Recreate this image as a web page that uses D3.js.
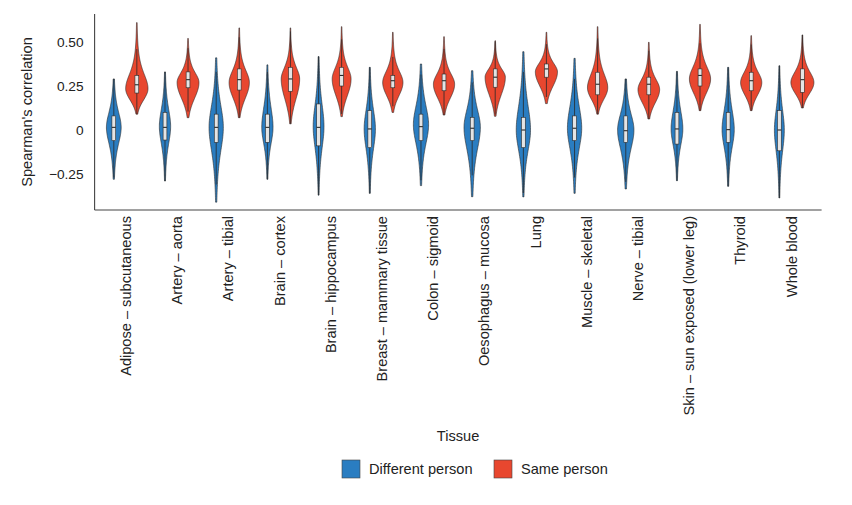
<!DOCTYPE html>
<html><head><meta charset="utf-8">
<script src="https://cdn.jsdelivr.net/npm/d3@7"></script>
<style>body{margin:0;background:#fff}svg{display:block}text{font-family:"Liberation Sans",Arial,Helvetica,sans-serif}</style>
</head><body><svg id="c" width="852" height="505"></svg>
<script>
const tissues = ["Adipose – subcutaneous","Artery – aorta","Artery – tibial","Brain – cortex","Brain – hippocampus","Breast – mammary tissue","Colon – sigmoid","Oesophagus – mucosa","Lung","Muscle – skeletal","Nerve – tibial","Skin – sun exposed (lower leg)","Thyroid","Whole blood"];
const groups = ["Different person","Same person"];
// summaries
const diffMin = [-0.28,-0.29,-0.41,-0.28,-0.37,-0.36,-0.316,-0.379,-0.38,-0.36,-0.335,-0.288,-0.32,-0.386];
const diffQ1  = [-0.06,-0.057,-0.07,-0.07,-0.09,-0.10,-0.06,-0.06,-0.10,-0.06,-0.07,-0.08,-0.07,-0.118];
const diffMed = [0.015,0.015,0.015,0.015,0.015,0.006,0.019,0.01,0.0,0.01,-0.004,0.006,0.002,0.0];
const diffQ3  = [0.08,0.10,0.09,0.09,0.148,0.11,0.09,0.072,0.072,0.08,0.08,0.10,0.10,0.11];
const diffMax = [0.29,0.33,0.41,0.37,0.417,0.356,0.375,0.337,0.445,0.407,0.29,0.333,0.356,0.365];
const diffMode = [0.015,0.02,0.015,0.015,0.02,0.006,0.03,0.015,0.0,0.01,0.0,0.006,0.002,0.0];
const diffPeak = [0.64,0.49,0.62,0.49,0.47,0.49,0.66,0.71,0.62,0.62,0.71,0.51,0.53,0.43]; // relative density
const sameMin = [0.09,0.07,0.07,0.035,0.076,0.10,0.085,0.078,0.15,0.09,0.0625,0.11,0.11,0.125];
const sameQ1  = [0.21,0.24,0.227,0.22,0.25,0.24,0.223,0.243,0.30,0.20,0.20,0.25,0.223,0.214];
const sameMed = [0.257,0.286,0.286,0.29,0.31,0.28,0.28,0.30,0.347,0.26,0.26,0.31,0.28,0.286];
const sameQ3  = [0.31,0.33,0.347,0.356,0.356,0.31,0.318,0.347,0.375,0.328,0.30,0.347,0.328,0.347];
const sameMax = [0.61,0.52,0.58,0.58,0.587,0.555,0.53,0.507,0.555,0.587,0.498,0.60,0.536,0.54];
const sameMode = [0.235,0.27,0.27,0.29,0.29,0.27,0.26,0.30,0.33,0.24,0.23,0.29,0.27,0.27];
const samePeak = [0.97,0.95,0.88,0.80,0.82,0.88,0.92,0.88,0.96,0.88,0.94,0.92,0.92,1.0];
const yTicks = [-0.25,0,0.25,0.5];
const yTickLabels = ["\u22120.25","0","0.25","0.50"];
const colors = ["#2A7DC1","#E8472F"];

const svg = d3.select("#c");
const L=94.6, R=821.6, T=14, B=210;
const x = d3.scalePoint().domain(tissues).range([L,R]).padding(0.6);
const step = x.step();
const dodge = d3.scaleBand().domain(groups).range([-0.45*step,0.45*step]);
const y = d3.scaleLinear().domain([-0.4545,0.659]).range([B,T]);
const wScale = d3.scaleLinear().domain([0,1]).range([0,0.225*step]);

const series = [
  {g:0,min:diffMin,q1:diffQ1,med:diffMed,q3:diffQ3,max:diffMax,mode:diffMode,pk:diffPeak},
  {g:1,min:sameMin,q1:sameQ1,med:sameMed,q3:sameQ3,max:sameMax,mode:sameMode,pk:samePeak}
];

const t3 = u => Math.pow(1+u*u/3,-2);
const gau = u => Math.exp(-0.5*u*u);
function profile(g,mn,mx,mo,pk){
  const n=90, pts=[];
  for(let i=0;i<=n;i++){
    const v=mn+(mx-mn)*i/n, d=v-mo;
    let r;
    if(g===0){ r = d>0 ? t3(d/((mx-mo)/2.7)) : t3(d/((mo-mn)/2.7)); }
    else { r = d>0 ? t3(d/((mx-mo)/3.8)) : gau(d/((mo-mn)/2.25)); }
    pts.push([v,pk*r]);
  }
  return pts;
}

const plot = svg.append("g");
series.forEach(s=>{
  tissues.forEach((t,i)=>{
    const cx = x(t)+dodge(groups[s.g])+dodge.bandwidth()/2;
    const pts = profile(s.g,s.min[i],s.max[i],s.mode[i],s.pk[i]);
    const outline = pts.map(p=>[cx-wScale(p[1]),y(p[0])]).concat(pts.slice().reverse().map(p=>[cx+wScale(p[1]),y(p[0])]));
    plot.append("path").attr("d",d3.line()(outline)+"Z").attr("fill",colors[s.g]).attr("stroke","#2a2a2a").attr("stroke-width",0.6).attr("stroke-linejoin","round");
    const iqr=s.q3[i]-s.q1[i];
    const wTop=Math.min(s.max[i],s.q3[i]+1.5*iqr), wBot=Math.max(s.min[i],s.q1[i]-1.5*iqr);
    plot.append("line").attr("x1",cx).attr("x2",cx).attr("y1",y(wTop)).attr("y2",y(s.q3[i])).attr("stroke","#2a2a2a").attr("stroke-width",0.8);
    plot.append("line").attr("x1",cx).attr("x2",cx).attr("y1",y(s.q1[i])).attr("y2",y(wBot)).attr("stroke","#2a2a2a").attr("stroke-width",0.8);
    const bw=3.8;
    plot.append("rect").attr("x",cx-bw/2).attr("width",bw).attr("y",y(s.q3[i])).attr("height",y(s.q1[i])-y(s.q3[i])).attr("fill","#e4e4e4").attr("stroke","#2a2a2a").attr("stroke-width",0.6);
    plot.append("line").attr("x1",cx-bw/2).attr("x2",cx+bw/2).attr("y1",y(s.med[i])).attr("y2",y(s.med[i])).attr("stroke","#2a2a2a").attr("stroke-width",1.1);
  });
});

// axes
const yAxis = d3.axisLeft(y).tickValues(yTicks).tickFormat((d,i)=>yTickLabels[i]).tickSize(0).tickPadding(11);
const gy = svg.append("g").attr("transform",`translate(${L},0)`).call(yAxis);
gy.select(".domain").remove();
gy.selectAll("text").attr("font-size",13.7).attr("fill","#222").attr("font-family","Liberation Sans, Arial, sans-serif");
const xAxis = d3.axisBottom(x).tickSize(0).tickPadding(6);
const gx = svg.append("g").attr("transform",`translate(0,${B})`).call(xAxis);
gx.select(".domain").remove();
gx.selectAll("text").attr("font-size",14.6).attr("fill","#222").attr("font-family","Liberation Sans, Arial, sans-serif")
  .attr("transform","rotate(-90)").attr("text-anchor","end").attr("x",-6).attr("y",0).attr("dy","0.35em");
svg.append("line").attr("x1",L).attr("x2",L).attr("y1",T).attr("y2",B).attr("stroke","#444").attr("stroke-width",1.1);
svg.append("line").attr("x1",L).attr("x2",R).attr("y1",B).attr("y2",B).attr("stroke","#444").attr("stroke-width",1.1);

svg.append("text").attr("transform",`translate(32,${(T+B)/2}) rotate(-90)`).attr("text-anchor","middle")
  .attr("font-size",14.6).attr("fill","#222").text("Spearman's correlation");
svg.append("text").attr("x",(L+R)/2).attr("y",441).attr("text-anchor","middle").attr("font-size",14.6).attr("fill","#222").text("Tissue");

// legend
const legX=[342,494];
groups.forEach((g,i)=>{
  svg.append("rect").attr("x",legX[i]).attr("y",460).attr("width",18).attr("height",18).attr("fill",colors[i]).attr("stroke","#444").attr("stroke-width",0.6);
  svg.append("text").attr("x",legX[i]+27).attr("y",469).attr("dy","0.35em").attr("font-size",14.6).attr("fill","#222").text(g);
});
</script></body></html>
